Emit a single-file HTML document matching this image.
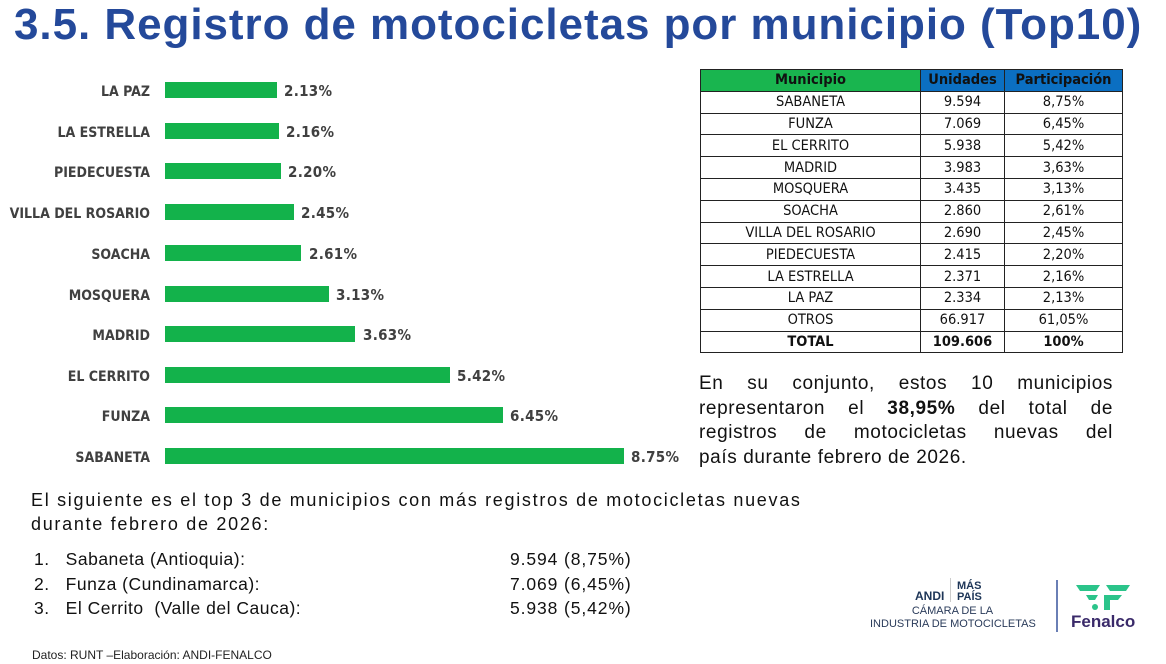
<!DOCTYPE html>
<html><head><meta charset="utf-8"><style>
body{margin:0;width:1166px;height:664px;background:#fff;position:relative;overflow:hidden;font-family:"Liberation Sans",sans-serif}
.a{position:absolute;white-space:nowrap}
.lab{position:absolute;right:1016px;font:bold 14px "DejaVu Sans Condensed","DejaVu Sans",sans-serif;color:#404040;transform:translateY(-50%);white-space:nowrap;margin-top:2px}
.bar{position:absolute;left:165px;height:16px;background:#13b24b;transform:translateY(-50%)}
.val{position:absolute;font:bold 15px "DejaVu Sans Condensed","DejaVu Sans",sans-serif;color:#404040;transform:translateY(-50%);letter-spacing:0.3px}
table{position:absolute;left:700px;top:69px;border-collapse:collapse;font:14.5px "DejaVu Sans Condensed","DejaVu Sans",sans-serif;color:#111}
td{border:1px solid #222;height:20.8px;padding:0;text-align:center}
.j{text-align:justify;text-align-last:justify;width:414px}
</style></head><body>
<div class="a" style="left:14px;top:0px;font-weight:bold;font-size:44px;color:#24499a;letter-spacing:0.95px">3.5. Registro de motocicletas por municipio (Top10)</div>

<div class="lab" style="top:90px">LA PAZ</div><div class="bar" style="top:90px;width:112px"></div><div class="val" style="top:91px;left:284px">2.13%</div>
<div class="lab" style="top:131px">LA ESTRELLA</div><div class="bar" style="top:131px;width:114px"></div><div class="val" style="top:132px;left:286px">2.16%</div>
<div class="lab" style="top:171px">PIEDECUESTA</div><div class="bar" style="top:171px;width:116px"></div><div class="val" style="top:172px;left:288px">2.20%</div>
<div class="lab" style="top:212px">VILLA DEL ROSARIO</div><div class="bar" style="top:212px;width:129px"></div><div class="val" style="top:213px;left:301px">2.45%</div>
<div class="lab" style="top:253px">SOACHA</div><div class="bar" style="top:253px;width:136px"></div><div class="val" style="top:254px;left:309px">2.61%</div>
<div class="lab" style="top:294px">MOSQUERA</div><div class="bar" style="top:294px;width:164px"></div><div class="val" style="top:295px;left:336px">3.13%</div>
<div class="lab" style="top:334px">MADRID</div><div class="bar" style="top:334px;width:190px"></div><div class="val" style="top:335px;left:363px">3.63%</div>
<div class="lab" style="top:375px">EL CERRITO</div><div class="bar" style="top:375px;width:285px"></div><div class="val" style="top:376px;left:457px">5.42%</div>
<div class="lab" style="top:415px">FUNZA</div><div class="bar" style="top:415px;width:338px"></div><div class="val" style="top:416px;left:510px">6.45%</div>
<div class="lab" style="top:456px">SABANETA</div><div class="bar" style="top:456px;width:459px"></div><div class="val" style="top:457px;left:631px">8.75%</div>

<table>
<tr style="font-weight:bold"><td style="width:219px;background:#19b54f">Municipio</td><td style="width:83px;background:#0b6fc2">Unidades</td><td style="width:117px;background:#0b6fc2">Participación</td></tr>
<tr><td>SABANETA</td><td>9.594</td><td>8,75%</td></tr>
<tr><td>FUNZA</td><td>7.069</td><td>6,45%</td></tr>
<tr><td>EL CERRITO</td><td>5.938</td><td>5,42%</td></tr>
<tr><td>MADRID</td><td>3.983</td><td>3,63%</td></tr>
<tr><td>MOSQUERA</td><td>3.435</td><td>3,13%</td></tr>
<tr><td>SOACHA</td><td>2.860</td><td>2,61%</td></tr>
<tr><td>VILLA DEL ROSARIO</td><td>2.690</td><td>2,45%</td></tr>
<tr><td>PIEDECUESTA</td><td>2.415</td><td>2,20%</td></tr>
<tr><td>LA ESTRELLA</td><td>2.371</td><td>2,16%</td></tr>
<tr><td>LA PAZ</td><td>2.334</td><td>2,13%</td></tr>
<tr><td>OTROS</td><td>66.917</td><td>61,05%</td></tr>
<tr style="font-weight:bold"><td>TOTAL</td><td>109.606</td><td>100%</td></tr>
</table>

<div class="a" style="left:699px;top:372px;font-size:19px;line-height:24.5px;color:#111;letter-spacing:0.6px">
<div class="j">En su conjunto, estos 10 municipios</div>
<div class="j">representaron el <b>38,95%</b> del total de</div>
<div class="j">registros de motocicletas nuevas del</div>
<div>país durante febrero de 2026.</div>
</div>

<div class="a" style="left:31px;top:488px;font-size:18px;line-height:24px;color:#111;letter-spacing:1.7px">El siguiente es el top 3 de municipios con más registros de motocicletas nuevas<br>durante febrero de 2026:</div>
<div class="a" style="left:34px;top:547px;font-size:17.5px;line-height:24.5px;color:#111;letter-spacing:0.5px">1.&nbsp;&nbsp;&nbsp;Sabaneta (Antioquia):<br>2.&nbsp;&nbsp;&nbsp;Funza (Cundinamarca):<br>3.&nbsp;&nbsp;&nbsp;El Cerrito&nbsp;&nbsp;(Valle del Cauca):</div>
<div class="a" style="left:510px;top:547px;font-size:17.5px;line-height:24.5px;color:#111;letter-spacing:0.9px">9.594 (8,75%)<br>7.069 (6,45%)<br>5.938 (5,42%)</div>
<div class="a" style="left:32px;top:648px;font-size:12px;color:#222">Datos: RUNT –Elaboración: ANDI-FENALCO</div>

<div class="a" style="left:915px;top:589px;font:bold 12px 'Liberation Sans',sans-serif;color:#1d3557">ANDI</div>
<div class="a" style="left:957px;top:581px;font:bold 11px 'Liberation Sans',sans-serif;color:#1d3557;line-height:11px">MÁS<br>PAÍS</div>
<div class="a" style="left:950px;top:578px;width:1px;height:24px;background:#ccc"></div>
<div class="a" style="left:870px;top:605px;width:165px;text-align:center;font-size:11px;line-height:13px;color:#2a3b5a">CÁMARA DE LA<br>INDUSTRIA DE MOTOCICLETAS</div>
<div class="a" style="left:1056px;top:580px;width:2px;height:52px;background:#6a7fb5"></div>
<svg class="a" style="left:1074px;top:583px" width="60" height="30"><path d="M2 2h24l-4 6H6z M32 2h24l-4 6H36z M12 12h12l-3 5h-6z M30 12h18l-4 5H30z M30 17h6v10h-6z" fill="#2bc48a"/><circle cx="21" cy="24" r="3" fill="#2bc48a"/></svg>
<div class="a" style="left:1071px;top:612px;font-size:17px;color:#3a2a6a;font-weight:bold">Fenalco</div>
</body></html>
